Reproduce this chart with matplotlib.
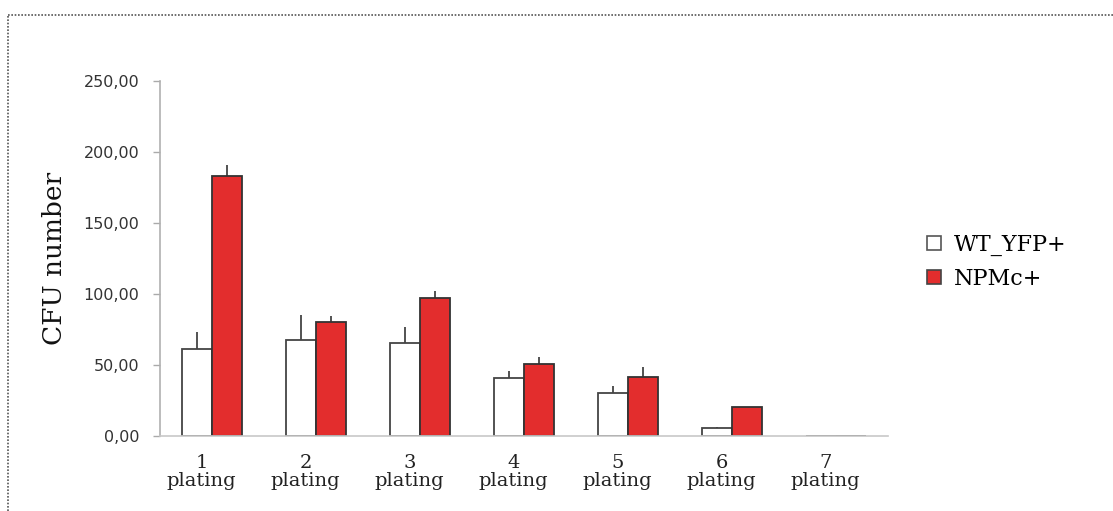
import numpy as np
import matplotlib.pyplot as plt
from matplotlib.lines import Line2D

platings = ['1', '2', '3', '4', '5', '6', '7']
wt_yfp = [61.3, 67.6, 65.5, 41.0, 30.5, 5.4, 0.0]
wt_err = [11.7, 17.4, 11.3, 5.0, 4.5, 1.2, 0.0]
npmc = [183.0, 80.0, 97.0, 50.7, 41.8, 20.2, 0.0]
npmc_err = [8.0, 4.5, 5.0, 4.9, 7.0, 0.5, 0.0]

red = '#e32d2d'
edge = '#333333'

fig = plt.figure(figsize=(11.13, 5.11), dpi=100)
ax = fig.add_axes([160 / 1113, 1 - 436 / 511, 728 / 1113, 355 / 511])

x = np.arange(1, len(platings) + 1)
w = 0.288
ax.bar(x - w / 2, wt_yfp, w, color='white', edgecolor='#444444', linewidth=1.3, zorder=2)
ax.bar(x + w / 2, npmc, w, color=red, edgecolor=edge, linewidth=1.3, zorder=2)
# only the upper half of the error bars, no caps
ax.errorbar(x - w / 2, wt_yfp, yerr=[np.zeros(7), wt_err], fmt='none', ecolor='#444444',
            elinewidth=1.3, capsize=0, zorder=1)
ax.errorbar(x + w / 2, npmc, yerr=[np.zeros(7), npmc_err], fmt='none', ecolor='#444444',
            elinewidth=1.3, capsize=0, zorder=1)

ax.set_xlim(0.5, 7.5)
ax.set_ylim(0, 250)
ax.set_yticks(np.arange(0, 251, 50))
ax.set_yticklabels([f'{v},00' for v in range(0, 251, 50)], fontsize=11.5, color='#333333')
ax.set_xticks(x - 0.1)
ax.set_xticklabels([p + '\nplating' for p in platings], family='DejaVu Serif', fontsize=14,
                   color='#222222', linespacing=1.0)
ax.tick_params(axis='x', length=0, pad=13)
ax.tick_params(axis='y', length=5, color='#aaaaaa', width=1, pad=10)

for s in ['top', 'right']:
    ax.spines[s].set_visible(False)
ax.spines['left'].set_color('#b0b0b0')
ax.spines['left'].set_linewidth(1.2)
ax.spines['bottom'].set_color('#c8c8c8')
ax.spines['bottom'].set_linewidth(1.2)

ax.set_ylabel('CFU number', family='DejaVu Serif', fontsize=19, color='#111111', labelpad=12)

handles = [
    Line2D([], [], marker='s', linestyle='none', markersize=10, markerfacecolor='white',
           markeredgecolor='#555555', markeredgewidth=1.2),
    Line2D([], [], marker='s', linestyle='none', markersize=10, markerfacecolor=red,
           markeredgecolor='#444444', markeredgewidth=1.2),
]
fig.legend(handles, ['WT_YFP+', 'NPMc+'], loc='center left', bbox_to_anchor=(0.809, 0.488),
           frameon=False, prop={'family': 'DejaVu Serif', 'size': 16}, handletextpad=0.3,
           labelspacing=0.55, handlelength=1.2)

# dotted frame at the top and left
fig.add_artist(Line2D([8 / 1113, 1], [1 - 15 / 511, 1 - 15 / 511], transform=fig.transFigure,
                      color='#555555', linestyle=(0, (1, 1)), linewidth=1.2))
fig.add_artist(Line2D([8 / 1113, 8 / 1113], [0, 1 - 15 / 511], transform=fig.transFigure,
                      color='#555555', linestyle=(0, (1, 1)), linewidth=1.2))

fig.savefig('out.png', dpi=100)
